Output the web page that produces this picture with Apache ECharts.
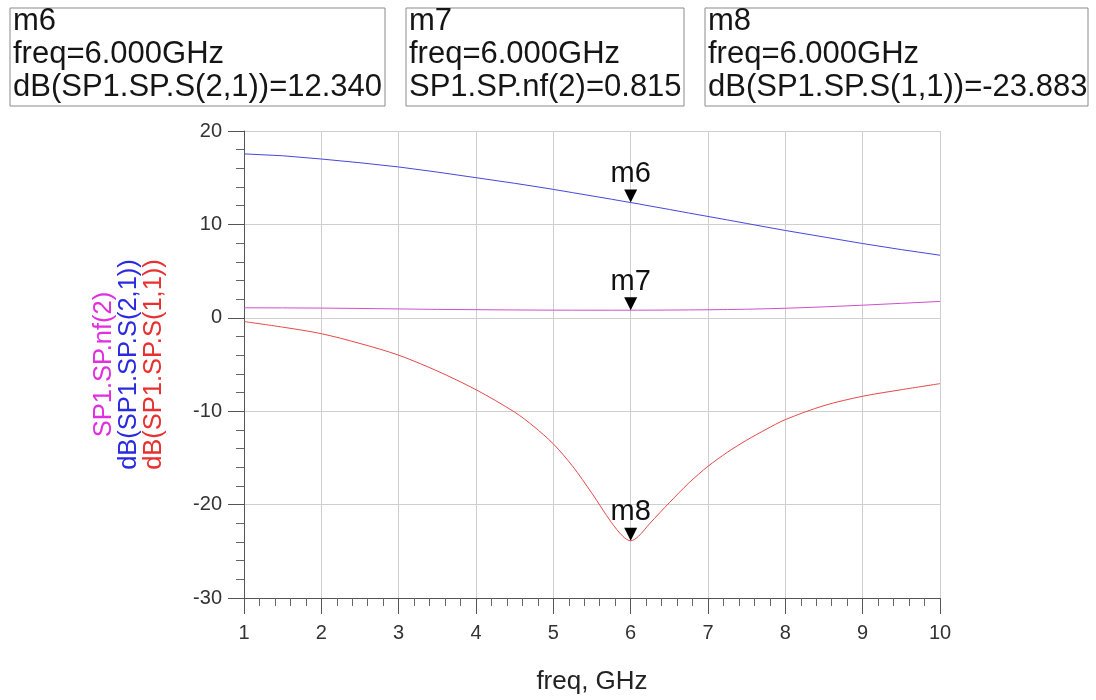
<!DOCTYPE html>
<html>
<head>
<meta charset="utf-8">
<script src="https://cdn.jsdelivr.net/npm/echarts@6/dist/echarts.min.js"></script>
<style>
html,body{margin:0;padding:0;background:#fff;}
#chart{width:1096px;height:700px;}
</style>
</head>
<body>
<div id="chart"></div>
<script>
// ---- data ----
const freqGHz = [1,1.5,2,2.5,3,3.5,4,4.5,4.75,5,5.25,5.5,5.75,5.9,6,6.1,6.25,6.5,6.75,7,7.25,7.5,7.75,8,8.5,9,9.5,10];
const s21dB = [17.55,17.35,17.0,16.6,16.15,15.6,15.0,14.4,14.08,13.75,13.4,13.05,12.7,12.48,12.34,12.2,11.97,11.6,11.22,10.85,10.48,10.1,9.72,9.35,8.65,7.95,7.3,6.7];
const nf2 = [1.07,1.06,1.04,1.0,0.95,0.9,0.87,0.84,0.83,0.82,0.818,0.815,0.813,0.813,0.815,0.817,0.82,0.83,0.845,0.86,0.885,0.92,0.965,1.02,1.17,1.35,1.55,1.75];
const s11dB = [-0.4,-1.0,-1.7,-2.75,-4.0,-5.7,-7.7,-10.1,-11.65,-13.5,-15.9,-18.8,-21.9,-23.4,-23.883,-23.4,-22.0,-19.8,-17.7,-15.9,-14.4,-13.1,-11.95,-10.9,-9.4,-8.4,-7.7,-7.05];

const markerNames = ['m6','m7','m8'];
const markerFreq = [6.0, 6.0, 6.0];
const markerExpr = ['dB(SP1.SP.S(2,1))','SP1.SP.nf(2)','dB(SP1.SP.S(1,1))'];
const markerValues = [12.340, 0.815, -23.883];

const xTicks = {min:1, max:10, interval:1};
const yTicks = {min:-30, max:20, interval:10};

// ---- chart ----
const FONT = 'Liberation Sans, Arial, sans-serif';
const chart = echarts.init(document.getElementById('chart'), null, {renderer:'canvas'});

function pairs(ys){ return freqGHz.map((x,i)=>[x, ys[i]]); }

function marker(i){
  return {
    silent:true,
    symbol:'path://M0,0L10,0L5,10Z',
    symbolSize:[13,13],
    symbolOffset:[0,-6.5],
    itemStyle:{color:'#000'},
    label:{show:true, position:'top', distance:1, formatter:markerNames[i],
           fontSize:29, fontFamily:FONT, color:'#111'},
    data:[{coord:[markerFreq[i], markerValues[i]]}]
  };
}

const boxes = [
  {x:10, y:8, w:375, h:98},
  {x:406, y:8, w:278, h:98},
  {x:705, y:8, w:383, h:98}
];

const graphic = boxes.map((b,i)=>({
  type:'group', x:b.x, y:b.y, silent:true,
  children:[
    {type:'rect', shape:{x:0,y:0,width:b.w,height:b.h}, style:{fill:'#fff', stroke:'#8a8a8a', lineWidth:1}},
    {type:'text', x:3, y:-3, style:{
      text: markerNames[i] + '\nfreq=' + markerFreq[i].toFixed(3) + 'GHz\n' + markerExpr[i] + '=' + markerValues[i].toFixed(3),
      font:'31px ' + FONT, lineHeight:33, fill:'#151515', verticalAlign:'top', align:'left'
    }}
  ]
}));

const axisCommon = {
  axisLine:{show:true, onZero:false, lineStyle:{color:'#555', width:1}},
  axisTick:{show:true, length:16, lineStyle:{color:'#555'}},
  minorTick:{show:true, splitNumber:5, length:8, lineStyle:{color:'#666'}},
  splitLine:{show:true, lineStyle:{color:'#cfcfcf', width:1}},
  minorSplitLine:{show:false},
  axisLabel:{fontSize:20, fontFamily:FONT, color:'#333'}
};

const option = {
  animation:false,
  backgroundColor:'#fff',
  grid:{left:244, right:156, top:131, bottom:100, containLabel:false},
  xAxis: Object.assign({}, axisCommon, {
    type:'value', min:xTicks.min, max:xTicks.max, interval:xTicks.interval,
    axisLabel:Object.assign({}, axisCommon.axisLabel, {margin:25}),
    name:'freq, GHz', nameLocation:'middle', nameGap:71,
    nameTextStyle:{fontSize:26, fontFamily:FONT, color:'#222'}
  }),
  yAxis: Object.assign({}, axisCommon, {
    type:'value', min:yTicks.min, max:yTicks.max, interval:yTicks.interval,
    axisLabel:Object.assign({}, axisCommon.axisLabel, {margin:22}),
    name:'{a|SP1.SP.nf(2)}\n{b|dB(SP1.SP.S(2,1))}\n{c|dB(SP1.SP.S(1,1))}',
    nameLocation:'middle', nameGap:78, nameRotate:90,
    nameTextStyle:{
      fontSize:25.5, fontFamily:FONT, lineHeight:25, align:'center',
      rich:{
        a:{color:'#e02ee0', fontSize:25.5, fontFamily:FONT, lineHeight:25},
        b:{color:'#2a2ae0', fontSize:25.5, fontFamily:FONT, lineHeight:25},
        c:{color:'#e83030', fontSize:25.5, fontFamily:FONT, lineHeight:25}
      }
    }
  }),
  graphic: graphic,
  series:[
    {name:'dB(SP1.SP.S(2,1))', type:'line', data:pairs(s21dB), showSymbol:false, symbol:'none',
     lineStyle:{color:'#4646e0', width:1}, itemStyle:{color:'#4646e0'}, markPoint:marker(0), z:3},
    {name:'SP1.SP.nf(2)', type:'line', data:pairs(nf2), showSymbol:false, symbol:'none',
     lineStyle:{color:'#cf4fcf', width:1}, itemStyle:{color:'#cf4fcf'}, markPoint:marker(1), z:3},
    {name:'dB(SP1.SP.S(1,1))', type:'line', data:pairs(s11dB), showSymbol:false, symbol:'none', smooth:0.3,
     lineStyle:{color:'#e84848', width:1}, itemStyle:{color:'#e84848'}, markPoint:marker(2), z:3}
  ]
};
chart.setOption(option);
</script>
</body>
</html>
